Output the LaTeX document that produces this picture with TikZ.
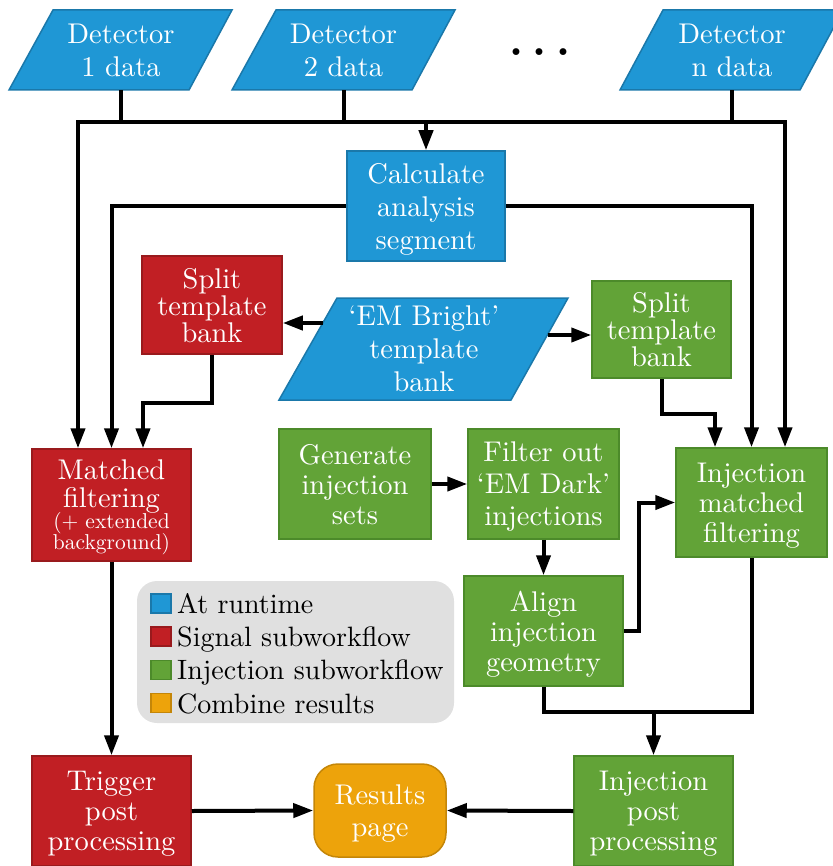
\documentclass[tikz,border=0pt]{standalone}
\usepackage{fontspec}
\setmainfont{lmroman10-regular}[Extension=.otf, BoldFont=lmroman10-bold]
\usetikzlibrary{arrows.meta,calc}
\definecolor{cblue}{HTML}{1F97D5}
\definecolor{cblued}{HTML}{1A78AA}
\definecolor{cred}{HTML}{C11F24}
\definecolor{credd}{HTML}{991A1D}
\definecolor{cgreen}{HTML}{62A337}
\definecolor{cgreend}{HTML}{4C8A2A}
\definecolor{corange}{HTML}{EDA30B}
\definecolor{coranged}{HTML}{C48608}
\definecolor{lgray}{HTML}{E0E0E0}
\newcommand{\bigf}{\fontsize{28.5}{33}\selectfont}
\newcommand{\legf}{\fontsize{28}{33}\selectfont}
\newcommand{\smallf}{\fontsize{21.5}{22}\selectfont}
\begin{document}
\begin{tikzpicture}[x=1pt,y=-1pt,
  txt/.style={text=white,align=center,font=\bigf,inner sep=0pt,text depth=0pt},
  box/.style={txt,draw,line width=1.5pt},
  redbox/.style={box,fill=cred,draw=credd},
  greenbox/.style={box,fill=cgreen,draw=cgreend},
  bluebox/.style={box,fill=cblue,draw=cblued},
  para/.style={fill=cblue,draw=cblued,line width=1.5pt},
  conn/.style={line width=4pt,draw=black},
  tip/.tip={Triangle[length=20pt,width=14pt]},
  arr/.style={conn,-tip},
  lsq/.style={draw,line width=1.5pt,minimum width=20,minimum height=19,inner sep=0pt},
  ltxt/.style={anchor=base west,font=\legf,inner sep=0pt,text=black}
]
\useasboundingbox (0,0) rectangle (832,866);

% Detector parallelograms
\path[para] (53,10) -- (232,10) -- (189,90) -- (9,90) -- cycle;
\node[txt,minimum height=80] (d1) at (121,50) {Detector\\1 data};
\path[para] (276,10) -- (455,10) -- (412,90) -- (232,90) -- cycle;
\node[txt,minimum height=80] (d2) at (343.5,50) {Detector\\2 data};
\path[para] (663,10) -- (843,10) -- (800,90) -- (620,90) -- cycle;
\node[txt,minimum height=80] (dn) at (732,50) {Detector\\n data};
\node[font=\fontsize{44}{44}\selectfont\bfseries,inner sep=0pt,anchor=base] (dots) at (540,55.5) {.\kern9pt.\kern9pt.};

% Boxes
\node[bluebox,minimum width=158,minimum height=110] (cas) at (426,206) {Calculate\\analysis\\segment};
\node[redbox,minimum width=140,minimum height=98] (rs) at (212,305) {Split\\[-6pt]template\\[-6pt]bank};
\path[para] (337,298) -- (568,298) -- (511,400) -- (279,400) -- cycle;
\node[txt,minimum height=102] (em) at (424,349) {`EM Bright'\\template\\bank};
\coordinate (emL) at (323,323);
\coordinate (emR) at (547.5,335);
\node[greenbox,minimum width=139,minimum height=97] (gs) at (661.5,329.5) {Split\\[-6pt]template\\[-6pt]bank};
\node[redbox,minimum width=159,minimum height=112] (mf) at (111.5,505) {Matched\\[-5pt]filtering\\[-12pt]\smallf(+ extended\\[-12pt]\smallf background)};
\node[greenbox,minimum width=152,minimum height=110] (gi) at (355,484) {Generate\\[-3pt]injection\\[-3pt]sets};
\node[greenbox,minimum width=151,minimum height=110] (fo) at (543.5,484) {Filter out\\[-1pt]`EM Dark'\\[-1pt]injections};
\node[greenbox,minimum width=151,minimum height=109] (imf) at (751.5,502.5) {Injection\\[-3pt]matched\\[-3pt]filtering};
\node[greenbox,minimum width=159,minimum height=110] (al) at (543.5,631) {Align\\[-3pt]injection\\[-3pt]geometry};
\node[redbox,minimum width=159,minimum height=110] (tpp) at (111.5,811) {Trigger\\[-3pt]post\\[-3pt]processing};
\node[greenbox,minimum width=159,minimum height=110] (ipp) at (653.5,811) {Injection\\[-3pt]post\\[-3pt]processing};
\node[txt,draw=coranged,fill=corange,line width=1.5pt,rounded corners=24pt,minimum width=132,minimum height=93] (rp) at (380,810.5) {Results\\[-1pt]page};

% Legend
\node[fill=lgray,rounded corners=20pt,minimum width=317,minimum height=142,inner sep=0pt] (leg) at (295.5,652) {};
\node[lsq,fill=cblue,draw=cblued] (s1) at (161,603.5) {};
\node[lsq,fill=cred,draw=credd] (s2) at (161,636.5) {};
\node[lsq,fill=cgreen,draw=cgreend] (s3) at (161,670) {};
\node[lsq,fill=corange,draw=coranged] (s4) at (161,703) {};
\node[ltxt] (l1) at (177,613) {At runtime};
\node[ltxt] (l2) at (177,646) {Signal subworkflow};
\node[ltxt] (l3) at (177,679.5) {Injection subworkflow};
\node[ltxt] (l4) at (177,713) {Combine results};

% Bus
\coordinate (busL) at (78,122);
\coordinate (busR) at (785,122);
\draw[conn] (d1.south) -- (d1.south |- busL);
\draw[conn] (d2.south) -- (d2.south |- busL);
\draw[conn] (dn.south) -- (dn.south |- busL);
\draw[conn,tip-tip] (busL |- mf.north) -- (busL) -- (busR) -- (busR |- imf.north);
\draw[arr] (cas.north |- busL) -- (cas.north);

% Calculate segment outputs
\draw[arr] (cas.west) -| (mf.north);
\draw[arr] (cas.east) -| (imf.north);

% Template bank
\draw[arr] (emL) -- (emL -| rs.east);
\draw[arr] (emR) -- (emR -| gs.west);
\draw[arr] (rs.south) -- (rs.south |- 0,403) -| ([xshift=31.5]mf.north);
\draw[arr] (gs.south) -- (gs.south |- 0,414) -| ([xshift=-36.5]imf.north);

% Injection chain
\draw[arr] (gi.east) -- (gi.east -| fo.west);
\draw[arr] (fo.south) -- (al.north);
\draw[arr] (al.east) -- (639,631) |- (imf.west);
\draw[conn] (al.south) |- (imf.south |- 0,712) -- (imf.south);
\draw[arr] (ipp.north |- 0,712) -- (ipp.north);

% Post processing
\draw[arr] (mf.south) -- (tpp.north);
\draw[arr] (tpp.east) -- (rp.west);
\draw[arr] (ipp.west) -- (rp.east);
\end{tikzpicture}
\end{document}
